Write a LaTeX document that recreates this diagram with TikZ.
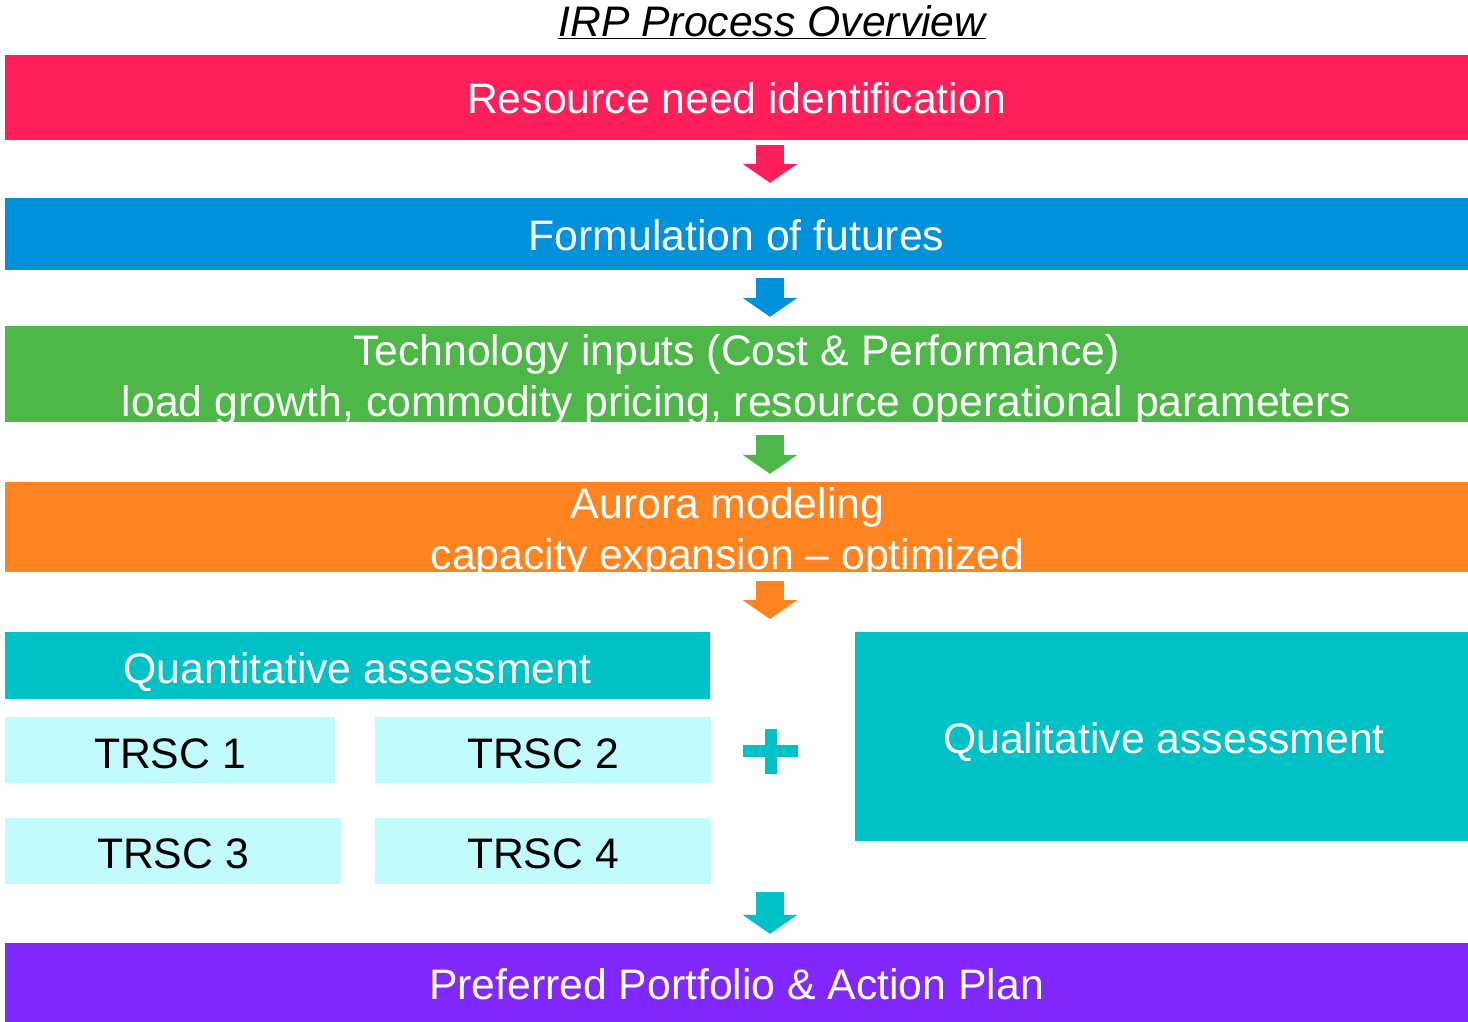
\documentclass[tikz,border=0pt]{standalone}
\usepackage{fontspec}
\setmainfont{Liberation Sans}
\usepackage{tikz}
\usetikzlibrary{arrows.meta}

\definecolor{needred}{HTML}{FF1F5A}
\definecolor{futblue}{HTML}{0091DA}
\definecolor{techgreen}{HTML}{4DB848}
\definecolor{auroraorange}{HTML}{FF8420}
\definecolor{assessteal}{HTML}{00C1C6}
\definecolor{trsccyan}{HTML}{C2FBFC}
\definecolor{planpurple}{HTML}{8128FF}

\begin{document}
\begin{tikzpicture}[x=1pt,y=-1pt
  ,inner sep=0pt
  ,font=\fontsize{42.7}{51}\selectfont]
  \tikzstyle{stage}=[rectangle,text=white,align=center
  ,minimum width=1463pt]
  \tikzstyle{oneline}=[text height=32.5pt,text depth=0pt]
  \tikzstyle{trsc}=[rectangle,fill=trsccyan,text=black
  ,minimum height=66pt,text height=36pt,text depth=0pt]
  \tikzstyle{flow}=[line width=28pt
  ,-{Triangle[length=19pt,width=55pt,line width=0pt]}]

  \useasboundingbox (0,0) rectangle (1468,1022);

  % title
  \node (title) at (772,22) {\itshape\underline{IRP Process Overview}};

  % full width stages
  \node[stage,oneline,fill=needred,minimum height=85pt,text height=31.6pt]
  (need) at (736.5,97.5) {Resource need identification};
  \node[stage,oneline,fill=futblue,minimum height=72pt] (futures) at (736.5,234)
  {Formulation of futures};
  \node[stage,fill=techgreen,minimum height=96pt] (tech) at (736.5,374) {};
  \node[text=white,align=center] (techtxt) at (736.5,380)
  {Technology inputs (Cost \& Performance)\\
    load growth, commodity pricing, resource operational parameters};
  \node[stage,fill=auroraorange,minimum height=90pt] (aurora) at (736.5,527) {};
  \node[text=white,align=center] (auroratxt) at (727.5,533)
  {Aurora modeling\\capacity expansion -- optimized};

  % assessments
  \node[rectangle,fill=assessteal,text=white,minimum width=705pt
  ,minimum height=67pt,text height=35pt,text depth=0pt]
  (quant) at (357.5,665.5) {Quantitative assessment};
  \node[trsc,minimum width=330pt] (trsc1) at (170,750) {TRSC 1};
  \node[trsc,minimum width=336pt] (trsc2) at (543,750) {TRSC 2};
  \node[trsc,minimum width=336pt] (trsc3) at (173,850.5) {TRSC 3};
  \node[trsc,minimum width=336pt] (trsc4) at (543,850.5) {TRSC 4};
  \node[rectangle,fill=assessteal,minimum width=613pt
  ,minimum height=209pt] (qual) at (1161.5,736.5) {};
  \node[text=white,text height=33pt,text depth=0pt] (qualtxt) at (1164,736.5)
  {Qualitative assessment};

  \node[stage,oneline,fill=planpurple,minimum height=79pt,text height=33pt]
  (plan) at (736.5,982.5) {Preferred Portfolio \& Action Plan};

  % plus sign
  \fill[assessteal] (743,745) rectangle (798,757);
  \fill[assessteal] (765,729) rectangle (777,774);

  % arrows
  \coordinate (axis) at (770,0);
  \coordinate (split) at (770,632);
  \coordinate (merge) at (770,884);
  \draw[flow,needred,shorten <=5pt,shorten >=15pt]
  (need.south -| axis) -- (futures.north -| axis);
  \draw[flow,futblue,shorten <=8pt,shorten >=9pt]
  (futures.south -| axis) -- (tech.north -| axis);
  \draw[flow,techgreen,shorten <=13pt,shorten >=8pt]
  (tech.south -| axis) -- (aurora.north -| axis);
  \draw[flow,auroraorange,shorten <=9pt,shorten >=13pt]
  (aurora.south -| axis) -- (split);
  \draw[flow,assessteal,shorten <=8pt,shorten >=9pt]
  (merge) -- (plan.north -| axis);

\end{tikzpicture}
\end{document}
